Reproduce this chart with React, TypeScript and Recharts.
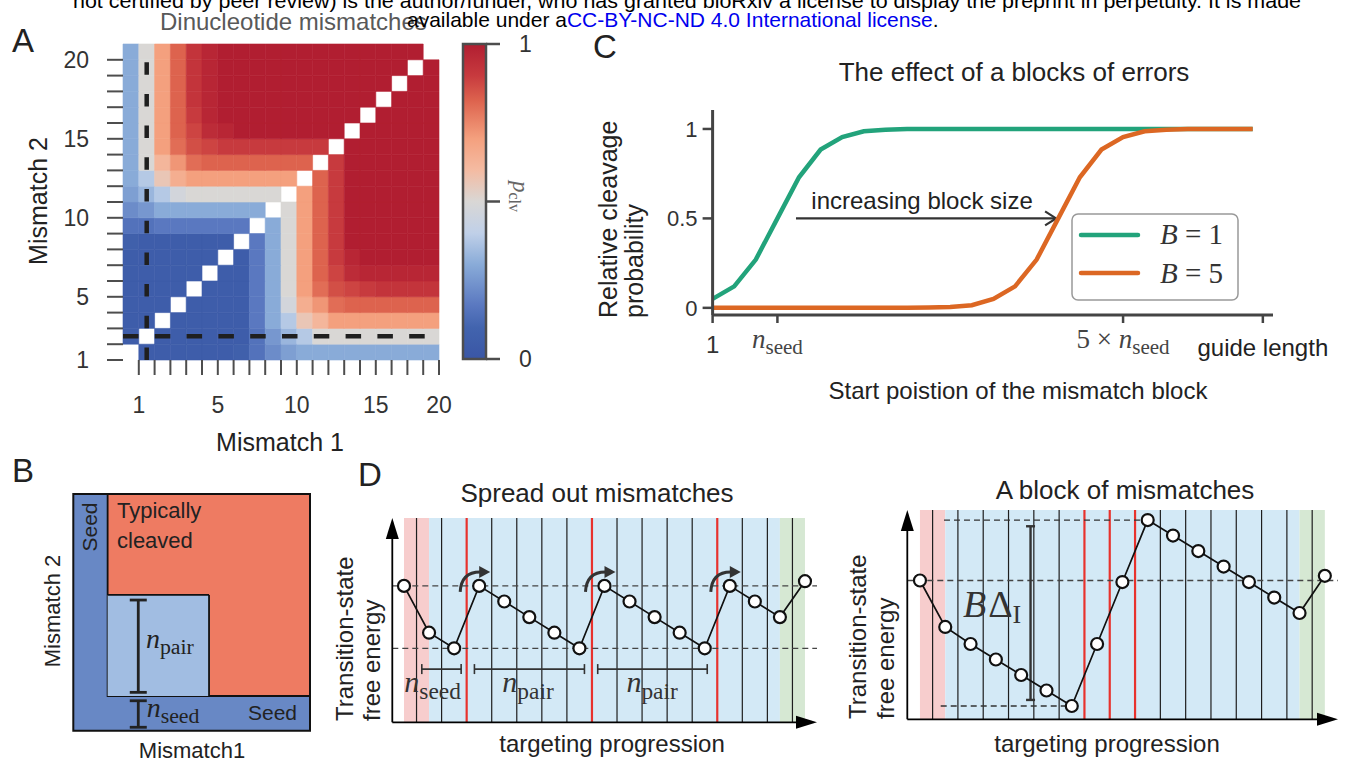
import React from "react";
import {
  ComposedChart, LineChart, Line, XAxis, YAxis, Scatter,
  ReferenceArea, ReferenceLine, ReferenceDot,
} from "recharts";

const SANS = "'Liberation Sans', Arial, Helvetica, sans-serif";
const SERIF = "'Liberation Serif', 'Times New Roman', serif";
const INK = "#222";
const SPINE = "#4d4d4d";
const GREEN = "#22a37b";
const ORANGE = "#dc6723";

// ---------- A: cleavage probability for a pair of mismatches ----------
// rows = mismatch 2 (bottom -> top), columns = mismatch 1, diagonal left empty
const pclvRows: (number | null)[][] = [
  [null, .05, .05, .05, .05, .05, .05, .07, .15, .22, .27, .3, .3, .3, .3, .3, .3, .3, .3, .3],
  [.05, null, .05, .05, .05, .05, .05, .05, .15, .25, .33, .38, .5, .5, .5, .5, .5, .5, .5, .5],
  [.05, .05, null, .05, .05, .05, .05, .05, .17, .3, .38, .56, .62, .7, .7, .7, .7, .7, .7, .7],
  [.05, .05, .05, null, .05, .05, .05, .05, .17, .3, .47, .65, .72, .8, .82, .82, .82, .82, .82, .82],
  [.05, .05, .05, .05, null, .05, .05, .05, .17, .3, .5, .7, .8, .86, .88, .9, .92, .92, .92, .92],
  [.05, .05, .05, .05, .05, null, .05, .05, .17, .3, .5, .7, .82, .88, .95, .97, .97, .97, .97, .97],
  [.05, .05, .05, .05, .05, .05, null, .05, .17, .3, .5, .7, .82, .9, .97, 1, 1, 1, 1, 1],
  [.07, .05, .05, .05, .05, .05, .05, null, .17, .3, .5, .7, .82, .9, 1, 1, 1, 1, 1, 1],
  [.15, .15, .17, .17, .17, .17, .17, .17, null, .3, .5, .7, .82, .9, 1, 1, 1, 1, 1, 1],
  [.22, .25, .3, .3, .3, .3, .3, .3, .3, null, .5, .7, .82, .9, 1, 1, 1, 1, 1, 1],
  [.27, .33, .38, .47, .5, .5, .5, .5, .5, .5, null, .7, .82, .9, 1, 1, 1, 1, 1, 1],
  [.3, .38, .56, .65, .7, .7, .7, .7, .7, .7, .7, null, .82, .9, 1, 1, 1, 1, 1, 1],
  [.3, .5, .62, .72, .8, .82, .82, .82, .82, .82, .82, .82, null, .9, 1, 1, 1, 1, 1, 1],
  [.3, .5, .7, .8, .86, .88, .9, .9, .9, .9, .9, .9, .9, null, 1, 1, 1, 1, 1, 1],
  [.3, .5, .7, .82, .88, .95, .97, 1, 1, 1, 1, 1, 1, 1, null, 1, 1, 1, 1, 1],
  [.3, .5, .7, .82, .9, .97, 1, 1, 1, 1, 1, 1, 1, 1, 1, null, 1, 1, 1, 1],
  [.3, .5, .7, .82, .92, .97, 1, 1, 1, 1, 1, 1, 1, 1, 1, 1, null, 1, 1, 1],
  [.3, .5, .7, .82, .92, .97, 1, 1, 1, 1, 1, 1, 1, 1, 1, 1, 1, null, 1, 1],
  [.3, .5, .7, .82, .92, .97, 1, 1, 1, 1, 1, 1, 1, 1, 1, 1, 1, 1, null, 1],
  [.3, .5, .7, .82, .92, .97, 1, 1, 1, 1, 1, 1, 1, 1, 1, 1, 1, 1, 1, null],
];

const heatXTicks = [1, 2, 3, 4, 5, 6, 7, 8, 9, 10, 11, 12, 13, 14, 15, 16, 17, 18, 19, 20];
const heatXLabels: Record<number, string> = { 1: "1", 6: "5", 11: "10", 16: "15", 20: "20" };
const heatYTicks = [0, 1, 2, 3, 4, 5, 6, 7, 8, 9, 10, 11, 12, 13, 14, 15, 16, 17, 18, 19];
const heatYLabels: Record<number, string> = { 0: "1", 4: "5", 9: "10", 14: "15", 19: "20" };
const cbarTicks = [0, 0.5, 1];

// coolwarm-like map as it looks in the figure
const cmapStops = [0, 0.1, 0.17, 0.3, 0.4, 0.5, 0.6, 0.7, 0.82, 0.9, 1];
const cmapColors = ["#3a56a5", "#4264ae", "#5a78c0", "#89abd8", "#c0d0e8", "#d9d7d5",
  "#f4bba2", "#f4a07e", "#dd634e", "#c73a3e", "#b11e31"];

// ---------- C: effect of a block of errors ----------
const guidePos = [1, 2, 3, 4, 5, 6, 7, 8, 9, 10, 11, 12, 13, 14, 15, 16, 17, 18, 19, 20, 21, 22, 23, 24, 25, 26];
const probB1 = [0.05, 0.12, 0.27, 0.5, 0.73, 0.885, 0.955, 0.987, 0.996, 1, 1, 1, 1, 1, 1, 1, 1, 1, 1, 1, 1, 1, 1, 1, 1, 1];
const probB5 = [0, 0, 0, 0, 0, 0, 0, 0, 0, 0, 0.002, 0.005, 0.015, 0.05, 0.12, 0.27, 0.5, 0.73, 0.885, 0.955, 0.987, 0.996, 1, 1, 1, 1];
const cXTicks = [1, 4, 20, 26.47];
const cYTicks = [0, 0.5, 1];

// ---------- D: transition-state free energy landscapes ----------
const stepIdx = [0, 1, 2, 3, 4, 5, 6, 7, 8, 9, 10, 11, 12, 13, 14, 15, 16];
const energySpread = [4, 1, 0, 4, 3, 2, 1, 0, 4, 3, 2, 1, 0, 4, 3, 2, 4.3];
const energyBlock = [8.1, 5.1, 4, 3, 2, 1, 0, 4, 8, 12, 11, 10, 9, 8, 7, 6, 8.4];
const mismatchSpread = [2, 7, 12];
const mismatchBlock = [6, 7, 8];
const cellEdges = [0, 1, 2, 3, 4, 5, 6, 7, 8, 9, 10, 11, 12, 13, 14, 15];

const heatCells = pclvRows.flatMap((row, j) =>
  row.map((v, i) => ({ i, j, x: i + 0.5, y: j + 0.5, v })).filter((c) => c.v !== null)
) as { i: number; j: number; x: number; y: number; v: number }[];
const cData = guidePos.map((p, k) => ({ pos: p, b1: probB1[k], b5: probB5[k] }));
const dSpread = stepIdx.map((k, n) => ({ k, e: energySpread[n] }));
const dBlock = stepIdx.map((k, n) => ({ k, e: energyBlock[n] }));

function hexRgb(h: string) {
  const n = parseInt(h.slice(1), 16);
  return [n >> 16, (n >> 8) & 255, n & 255];
}
function cmap(v: number) {
  for (let k = 1; k < cmapStops.length; k++) {
    if (v <= cmapStops[k]) {
      const t = (v - cmapStops[k - 1]) / (cmapStops[k] - cmapStops[k - 1]);
      const a = hexRgb(cmapColors[k - 1]);
      const b = hexRgb(cmapColors[k]);
      return `rgb(${a.map((c, q) => Math.round(c + (b[q] - c) * t)).join(",")})`;
    }
  }
  return cmapColors[cmapColors.length - 1];
}

const none = () => <g />;

// serif italic symbol with an upright subscript
function MathSub(p: { x: number; y: number; sym: string; sub: string; size: number; pre?: string; anchor?: string; fill?: string }) {
  const { x, y, sym, sub, size, pre, anchor = "middle", fill = "#333" } = p;
  return (
    <text x={x} y={y} textAnchor={anchor as any} fontFamily={SERIF} fontSize={size} fill={fill}>
      {pre ? <tspan>{pre}</tspan> : null}
      <tspan fontStyle="italic">{sym}</tspan>
      <tspan fontSize={size * 0.78} dy={size * 0.22}>{sub}</tspan>
    </text>
  );
}

// ---------------- panel A ----------------
function HeatmapA() {
  const tickStyle = { fontSize: 23, fill: "#333", fontFamily: SANS };
  return (
    <ComposedChart width={470} height={460} margin={{ top: 44, right: 31, bottom: 40, left: 63 }}>
      <XAxis type="number" dataKey="x" domain={[0, 20]} ticks={heatXTicks} interval={0} height={60}
        tickFormatter={(v: number) => heatXLabels[v] ?? ""} axisLine={false} allowDataOverflow
        tickSize={15} tickMargin={22} tickLine={{ stroke: SPINE, strokeWidth: 2 }} tick={tickStyle} />
      <YAxis type="number" dataKey="y" domain={[0, 20]} ticks={heatYTicks} interval={0} width={60}
        tickFormatter={(v: number) => heatYLabels[v] ?? ""} axisLine={false} allowDataOverflow
        tickSize={16} tickMargin={18} tickLine={{ stroke: SPINE, strokeWidth: 2 }} tick={tickStyle} />
      {heatCells.map((c) => (
        <ReferenceArea key={`${c.i}-${c.j}`} x1={c.i} x2={c.i + 1} y1={c.j} y2={c.j + 1}
          fill={cmap(c.v)} fillOpacity={1} stroke={cmap(c.v)} strokeWidth={0.6} ifOverflow="visible" />
      ))}
      <ReferenceLine x={1.5} stroke="#1f1f1f" strokeWidth={4.5} strokeDasharray="12.5 19.2" />
      <ReferenceLine y={1.5} stroke="#1f1f1f" strokeWidth={4.5} strokeDasharray="15.5 16.3" />
      <Scatter data={heatCells} shape={none} isAnimationActive={false} />
    </ComposedChart>
  );
}

function ColorbarA() {
  return (
    <ComposedChart width={120} height={460} margin={{ top: 44, right: 0, bottom: 101, left: 23 }}>
      <defs>
        <linearGradient id="pclvGrad" x1="0" y1="1" x2="0" y2="0">
          {cmapStops.map((s, k) => <stop key={k} offset={s} stopColor={cmapColors[k]} />)}
        </linearGradient>
      </defs>
      <XAxis type="number" dataKey="x" domain={[0, 1]} hide />
      <YAxis type="number" dataKey="y" domain={[0, 1]} orientation="right" ticks={cbarTicks} interval={0} width={74}
        tickFormatter={(v: number) => (v === 0.5 ? "" : String(v))} axisLine={false}
        tickSize={14} tickMargin={19} tickLine={{ stroke: SPINE, strokeWidth: 2.5 }}
        tick={{ fontSize: 23, fill: "#333", fontFamily: SANS }} />
      <ReferenceArea x1={0} x2={1} y1={0} y2={1} fill="url(#pclvGrad)" fillOpacity={1}
        stroke={SPINE} strokeWidth={2.5} ifOverflow="visible" />
      <Scatter data={[{ x: 0.5, y: 0.5 }]} shape={none} isAnimationActive={false} />
    </ComposedChart>
  );
}

// ---------------- panel B ----------------
const vBar = (cap: number, color: string, w: number) => (p: any) => (
  <g stroke={color} strokeWidth={w}>
    <line x1={p.x1} y1={p.y1} x2={p.x2} y2={p.y2} />
    <line x1={p.x1 - cap} y1={p.y1} x2={p.x1 + cap} y2={p.y1} />
    <line x1={p.x2 - cap} y1={p.y2} x2={p.x2 + cap} y2={p.y2} />
  </g>
);
const hBracket = (cap: number) => (p: any) => (
  <g stroke="#333" strokeWidth={1.6}>
    <line x1={p.x1} y1={p.y1} x2={p.x2} y2={p.y2} />
    <line x1={p.x1} y1={p.y1 - cap} x2={p.x1} y2={p.y1 + cap} />
    <line x1={p.x2} y1={p.y2 - cap} x2={p.x2} y2={p.y2 + cap} />
  </g>
);
const mathDot = (sym: string, sub: string, size: number, anchor = "middle", fill = "#333") => (p: any) => (
  <MathSub x={p.cx} y={p.cy} sym={sym} sub={sub} size={size} anchor={anchor} fill={fill} />
);

function SchematicB() {
  return (
    <ComposedChart width={260} height={260} margin={{ top: 14, right: 10, bottom: 9.3, left: 13.3 }}>
      <XAxis type="number" dataKey="x" domain={[0, 20]} hide />
      <YAxis type="number" dataKey="y" domain={[0, 20]} hide />
      <ReferenceArea x1={0} x2={20} y1={0} y2={20} fill="#6888c5" fillOpacity={1} stroke="none" />
      <ReferenceArea x1={2.9} x2={20} y1={2.93} y2={20} fill="#ee7b62" fillOpacity={1} stroke="#111" strokeWidth={1.8} />
      <ReferenceArea x1={2.9} x2={11.47} y1={2.93} y2={11.47} fill="#a1bde2" fillOpacity={1} stroke="none" />
      <ReferenceLine segment={[{ x: 2.9, y: 11.47 }, { x: 11.47, y: 11.47 }]} stroke="#111" strokeWidth={1.8} />
      <ReferenceLine segment={[{ x: 11.47, y: 11.47 }, { x: 11.47, y: 2.93 }]} stroke="#111" strokeWidth={1.8} />
      <ReferenceArea x1={0} x2={20} y1={0} y2={20} fill="none" stroke="#111" strokeWidth={2} />
      <ReferenceLine segment={[{ x: 5.49, y: 11.04 }, { x: 5.49, y: 3.24 }]} shape={vBar(8.5, "#222", 2.8)} />
      <ReferenceLine segment={[{ x: 5.49, y: 2.53 }, { x: 5.49, y: 0.29 }]} shape={vBar(8.5, "#222", 2.8)} />
      <ReferenceDot x={6.14} y={6.99} shape={mathDot("n", "pair", 28, "start", "#222")} />
      <ReferenceDot x={6.2} y={1.16} shape={mathDot("n", "seed", 28, "start", "#222")} />
      <Scatter data={[{ x: 0, y: 0 }]} shape={none} isAnimationActive={false} />
    </ComposedChart>
  );
}

// ---------------- panel C ----------------
function CTick(props: any) {
  const { x, y, payload } = props;
  const v = payload.value;
  if (v === 1) return <text x={x} y={y + 30} textAnchor="middle" fontFamily={SANS} fontSize={24} fill="#333">1</text>;
  if (v === 4) return <MathSub x={x} y={y + 25} sym="n" sub="seed" size={27} fill="#444" />;
  if (v === 20) return <MathSub x={x} y={y + 25} pre={"5 \u00d7 "} sym="n" sub="seed" size={27} fill="#444" />;
  return <text x={x} y={y + 33} textAnchor="middle" fontFamily={SANS} fontSize={24} fill={INK}>guide length</text>;
}

const ArrowAnnot = (p: any) => {
  const { x1, y1, x2, y2 } = p;
  return (
    <g>
      <text x={(x1 + x2) / 2 - 4} y={y1 - 9} textAnchor="middle" fontFamily={SANS} fontSize={24} fill={INK}>
        increasing block size
      </text>
      <line x1={x1} y1={y1} x2={x2} y2={y2} stroke="#333" strokeWidth={2.2} />
      <polyline points={`${x2 - 11},${y2 - 7} ${x2},${y2} ${x2 - 11},${y2 + 7}`} fill="none" stroke="#333" strokeWidth={2.2} />
    </g>
  );
};

function EffectC() {
  return (
    <LineChart width={700} height={350} data={cData} margin={{ top: 50, right: 67, bottom: 55, left: 22.6 }}>
      <XAxis type="number" dataKey="pos" domain={[1, 26.94]} ticks={cXTicks} interval={0} height={40}
        allowDataOverflow tick={<CTick />} tickSize={8} tickMargin={0}
        axisLine={{ stroke: "#444", strokeWidth: 3 }} tickLine={{ stroke: "#444", strokeWidth: 2.5 }} />
      <YAxis type="number" domain={[-0.04, 1.106]} ticks={cYTicks} interval={0} width={50} allowDataOverflow
        tickFormatter={(v: number) => String(v)} tickSize={10} tickMargin={5}
        axisLine={{ stroke: "#444", strokeWidth: 3 }} tickLine={{ stroke: "#444", strokeWidth: 2.5 }}
        tick={{ fontSize: 22, fill: "#333", fontFamily: SANS }} />
      <ReferenceLine segment={[{ x: 4.86, y: 0.5 }, { x: 16.9, y: 0.5 }]} shape={ArrowAnnot} ifOverflow="visible" />
      <Line type="linear" dataKey="b1" stroke={GREEN} strokeWidth={4.5} dot={false} isAnimationActive={false} />
      <Line type="linear" dataKey="b5" stroke={ORANGE} strokeWidth={4.5} dot={false} isAnimationActive={false} />
    </LineChart>
  );
}

// ---------------- panel D ----------------
const AxisArrow = (p: any) => {
  const { x1, y1, x2, y2 } = p;
  const len = Math.hypot(x2 - x1, y2 - y1);
  const ux = (x2 - x1) / len;
  const uy = (y2 - y1) / len;
  const hl = 21;
  const hw = 6.5;
  const bx = x2 - ux * hl;
  const by = y2 - uy * hl;
  return (
    <g>
      <line x1={x1} y1={y1} x2={bx + ux * 2} y2={by + uy * 2} stroke="#000" strokeWidth={1.8} />
      <polygon points={`${x2},${y2} ${bx - uy * hw},${by + ux * hw} ${bx + uy * hw},${by - ux * hw}`} fill="#000" />
    </g>
  );
};

const CurlyArrow = (p: any) => {
  const { cx, cy } = p;
  return (
    <g>
      <path d={`M${cx - 19},${cy + 6} Q${cx - 18},${cy - 14} ${cx + 1},${cy - 14}`} fill="none" stroke="#333" strokeWidth={3} />
      <polygon points={`${cx + 11},${cy - 14} ${cx},${cy - 20} ${cx},${cy - 8}`} fill="#333" />
    </g>
  );
};

const BlockLabel = (p: any) => (
  <text x={p.cx} y={p.cy} textAnchor="middle" fontFamily={SERIF} fontSize={38} fill="#333">
    <tspan fontStyle="italic">B</tspan>
    <tspan dx={2}>{"\u0394"}</tspan>
    <tspan fontSize={26} dy={6}>I</tspan>
  </text>
);

function Landscape(props: {
  data: { k: number; e: number }[]; xDom: [number, number]; yDom: [number, number];
  red: number[]; width: number; height: number; margin: any; children?: React.ReactNode;
}) {
  const { data, xDom, yDom, red, width, height, margin, children } = props;
  return (
    <ComposedChart width={width} height={height} data={data} margin={margin}>
      <XAxis type="number" dataKey="k" domain={xDom} hide allowDataOverflow />
      <YAxis type="number" domain={yDom} hide allowDataOverflow />
      <ReferenceArea x1={0} x2={1} y1={yDom[0]} y2={yDom[1]} fill="#f7cdcd" fillOpacity={1} stroke="none" />
      <ReferenceArea x1={1} x2={15} y1={yDom[0]} y2={yDom[1]} fill="#d3e9f6" fillOpacity={1} stroke="none" />
      <ReferenceArea x1={15} x2={16} y1={yDom[0]} y2={yDom[1]} fill="#d6e8d3" fillOpacity={1} stroke="none" />
      {cellEdges.map((k) => (
        <ReferenceLine key={k} x={k + 0.5}
          stroke={red.includes(k) ? "#e8322d" : "#1e1e1e"} strokeWidth={red.includes(k) ? 2.2 : 1.2} />
      ))}
      {children}
      <ReferenceLine segment={[{ x: xDom[0], y: yDom[0] }, { x: xDom[0], y: yDom[1] }]} shape={AxisArrow} ifOverflow="visible" />
      <ReferenceLine segment={[{ x: xDom[0], y: yDom[0] }, { x: xDom[1], y: yDom[0] }]} shape={AxisArrow} ifOverflow="visible" />
      <Line type="linear" dataKey="e" stroke="#111" strokeWidth={1.7} isAnimationActive={false}
        dot={{ r: 6, fill: "#fff", stroke: "#111", strokeWidth: 2.2 }} />
    </ComposedChart>
  );
}

function SpreadD() {
  const yDom: [number, number] = [-4.74, 8.35];
  return (
    <Landscape data={dSpread} xDom={[-0.467, 16.48]} yDom={yDom} red={mismatchSpread}
      width={500} height={250} margin={{ top: 28, right: 13, bottom: 17.7, left: 62.3 }}>
      <ReferenceLine y={4} stroke="#444" strokeWidth={1.3} strokeDasharray="6 4" ifOverflow="visible" />
      <ReferenceLine y={0} stroke="#444" strokeWidth={1.3} strokeDasharray="6 4" ifOverflow="visible" />
      <ReferenceLine segment={[{ x: 0.71, y: -1.33 }, { x: 2.28, y: -1.33 }]} shape={hBracket(5)} />
      <ReferenceLine segment={[{ x: 2.81, y: -1.33 }, { x: 7.2, y: -1.33 }]} shape={hBracket(5)} />
      <ReferenceLine segment={[{ x: 7.73, y: -1.33 }, { x: 12.1, y: -1.33 }]} shape={hBracket(5)} />
      <ReferenceDot x={1.14} y={-2.8} shape={mathDot("n", "seed", 30)} />
      <ReferenceDot x={4.95} y={-2.8} shape={mathDot("n", "pair", 30)} />
      <ReferenceDot x={9.9} y={-2.8} shape={mathDot("n", "pair", 30)} />
      <ReferenceDot x={3} y={4} shape={CurlyArrow} />
      <ReferenceDot x={8} y={4} shape={CurlyArrow} />
      <ReferenceDot x={13} y={4} shape={CurlyArrow} />
    </Landscape>
  );
}

function BlockD() {
  const yDom: [number, number] = [-0.86, 12.65];
  return (
    <Landscape data={dBlock} xDom={[-0.5, 16.52]} yDom={yDom} red={mismatchBlock}
      width={510} height={260} margin={{ top: 30, right: 12, bottom: 20.7, left: 67.3 }}>
      <ReferenceLine segment={[{ x: 0.95, y: 12 }, { x: 9, y: 12 }]} stroke="#333" strokeWidth={1.3} strokeDasharray="6 4" />
      <ReferenceLine y={8.1} stroke="#444" strokeWidth={1.3} strokeDasharray="6 4" ifOverflow="visible" />
      <ReferenceLine segment={[{ x: 0.82, y: 0 }, { x: 6, y: 0 }]} stroke="#333" strokeWidth={1.3} strokeDasharray="6 4" />
      <ReferenceLine segment={[{ x: 4.37, y: 11.6 }, { x: 4.37, y: 0.39 }]} shape={vBar(4.5, "#333", 2.4)} />
      <ReferenceDot x={2.85} y={5.74} shape={BlockLabel} />
    </Landscape>
  );
}

// ---------------- free text (titles, axis names, legend) ----------------
function Overlay() {
  const t = { fontFamily: SANS, fill: INK };
  return (
    <svg width={1347} height={764} style={{ position: "absolute", left: 0, top: 0, pointerEvents: "none" }}>
      {/* panel A */}
      <text x={160} y={30} fontSize={24} fontFamily={SANS} fill="#595959">Dinucleotide mismatches</text>
      <text x={12} y={52} fontSize={33} {...t}>A</text>
      <text transform="rotate(-90 47 201)" x={47} y={201} textAnchor="middle" fontSize={25} {...t}>Mismatch 2</text>
      <text x={280} y={451} textAnchor="middle" fontSize={25} {...t}>Mismatch 1</text>
      <text transform="rotate(90 513 181)" x={513} y={181} fontFamily={SERIF} fontSize={23} fill="#666">
        <tspan fontStyle="italic">p</tspan><tspan fontSize={16} dy={4}>clv</tspan>
      </text>

      {/* preprint header */}
      <text x={73} y={8} fontSize={21} fontFamily={SANS} fill="#000" textLength={1228} lengthAdjust="spacingAndGlyphs">
        not certified by peer review) is the author/funder, who has granted bioRxiv a license to display the preprint in perpetuity. It is made
      </text>
      <text x={407} y={27} fontSize={21} fontFamily={SANS} fill="#000">
        available under a<tspan fill="#0000ee">CC-BY-NC-ND 4.0 International license</tspan>.
      </text>

      {/* panel C */}
      <text x={593} y={58} fontSize={33} {...t}>C</text>
      <text x={1014} y={81} textAnchor="middle" fontSize={26} {...t}>The effect of a blocks of errors</text>
      <text transform="rotate(-90 617 318)" x={617} y={318} fontSize={25} {...t}>Relative cleavage</text>
      <text transform="rotate(-90 643 318)" x={643} y={318} fontSize={25} {...t}>probability</text>
      <text x={1018} y={399} textAnchor="middle" fontSize={24} {...t}>Start poistion of the mismatch block</text>
      <rect x={1072} y={214} width={166} height={86} rx={6} fill="#fff" stroke="#999" strokeWidth={1.5} />
      <line x1={1081} y1={235} x2={1138} y2={235} stroke={GREEN} strokeWidth={4.5} strokeLinecap="round" />
      <line x1={1081} y1={273} x2={1138} y2={273} stroke={ORANGE} strokeWidth={4.5} strokeLinecap="round" />
      <text x={1160} y={244} fontFamily={SERIF} fontSize={29} fill="#333" textLength={63}>
        <tspan fontStyle="italic">B</tspan>=1
      </text>
      <text x={1160} y={283} fontFamily={SERIF} fontSize={29} fill="#333" textLength={63}>
        <tspan fontStyle="italic">B</tspan>=5
      </text>

      {/* panel B */}
      <text x={12} y={482} fontSize={33} {...t}>B</text>
      <text transform="rotate(-90 96.5 527)" x={96.5} y={527} textAnchor="middle" fontSize={21} {...t}>Seed</text>
      <text x={117} y={518} fontSize={22} {...t}>Typically</text>
      <text x={117} y={548} fontSize={22} {...t}>cleaved</text>
      <text x={248} y={720} fontSize={21} {...t}>Seed</text>
      <text transform="rotate(-90 60 611)" x={60} y={611} textAnchor="middle" fontSize={22} {...t}>Mismatch 2</text>
      <text x={192} y={758} textAnchor="middle" fontSize={22} {...t}>Mismatch1</text>

      {/* panel D */}
      <text x={358} y={486} fontSize={33} {...t}>D</text>
      <text x={597} y={502} textAnchor="middle" fontSize={26} {...t}>Spread out mismatches</text>
      <text x={1125} y={499} textAnchor="middle" fontSize={26} {...t}>A block of mismatches</text>
      <text transform="rotate(-90 353 721)" x={353} y={721} fontSize={24} {...t}>Transition-state</text>
      <text transform="rotate(-90 380 721)" x={380} y={721} fontSize={24} {...t}>free energy</text>
      <text transform="rotate(-90 866 719)" x={866} y={719} fontSize={24} {...t}>Transition-state</text>
      <text transform="rotate(-90 894 719)" x={894} y={719} fontSize={24} {...t}>free energy</text>
      <text x={612} y={752} textAnchor="middle" fontSize={24} {...t}>targeting progression</text>
      <text x={1107} y={752} textAnchor="middle" fontSize={24} {...t}>targeting progression</text>
    </svg>
  );
}

export default function App() {
  const at = (left: number, top: number): React.CSSProperties => ({ position: "absolute", left, top });
  return (
    <div style={{ position: "relative", width: 1347, height: 764, background: "#fff", overflow: "hidden", fontFamily: SANS }}>
      <style>{"body{margin:0;}"}</style>
      <div style={at(0, 0)}><HeatmapA /></div>
      <div style={at(440, 0)}><ColorbarA /></div>
      <div style={at(640, 60)}><EffectC /></div>
      <div style={at(60, 480)}><SchematicB /></div>
      <div style={at(330, 490)}><SpreadD /></div>
      <div style={at(840, 480)}><BlockD /></div>
      <Overlay />
    </div>
  );
}
